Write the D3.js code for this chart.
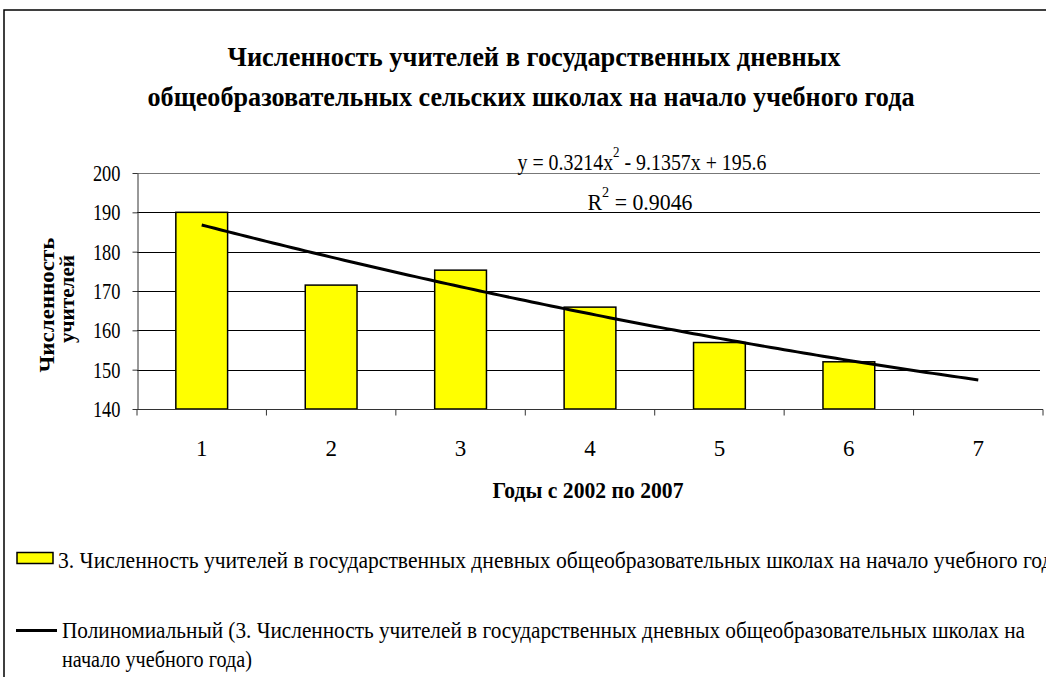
<!DOCTYPE html>
<html><head><meta charset="utf-8">
<script src="https://cdn.jsdelivr.net/npm/d3@7"></script>
<style>
body{margin:0;background:#fff}
</style>
</head><body>
<svg id="c" width="1046" height="677"></svg>
<script>
// ---- data ----
const categories = ["1","2","3","4","5","6","7"];
const values = [190, 171.5, 175.3, 165.9, 156.9, 152.0];
const yTicks = [140,150,160,170,180,190,200];
const trendCoef = [0.3214, -9.1357, 195.6]; // a, b, c of y = ax^2 + bx + c
const rSquared = "0.9046";
const titleLines = ["Численность учителей в государственных дневных",
                    "общеобразовательных сельских школах на начало учебного года"];
const yTitleLines = ["Численность","учителей"];
const xTitle = "Годы с 2002 по 2007";
const legendBar = "3. Численность учителей в государственных дневных общеобразовательных школах на начало учебного года";
const legendTrendLines = ["Полиномиальный (3. Численность учителей в государственных дневных общеобразовательных школах на",
                          "начало учебного года)"];

// ---- layout ----
const FONT = "'Liberation Serif', 'Times New Roman', 'DejaVu Serif', serif";
const svg = d3.select("#c");
const L = 137, R = 1043, T = 173, B = 409;

const x = d3.scaleBand().domain(categories).range([L, R]).paddingInner(0.6).paddingOuter(0.3);
const y = d3.scaleLinear().domain([140, 200]).range([B, T]);
const bw = x.bandwidth();
const xNum = d3.scaleLinear().domain([1, 7]).range([x("1") + bw/2, x("7") + bw/2]);

function txt(px, py, s, o) {
  const t = svg.append("text").attr("x", px).attr("y", py)
    .style("font-family", FONT).attr("fill", "#000")
    .attr("font-size", o.size).attr("text-anchor", o.anchor || "start").text(s);
  if (o.bold) t.attr("font-weight", "bold");
  if (o.w) t.attr("textLength", o.w).attr("lengthAdjust", "spacingAndGlyphs");
  return t;
}

// frame
svg.append("path").attr("d", "M4,677V10H1046").attr("fill", "none").attr("stroke", "#000").attr("stroke-width", 1.5);

// title
txt(534, 66, titleLines[0], {size: 27, bold: true, anchor: "middle", w: 613});
txt(531, 106, titleLines[1], {size: 27, bold: true, anchor: "middle", w: 767});

// gridlines
svg.append("g").selectAll("line").data(yTicks.filter(d => d > 140)).join("line")
  .attr("x1", L).attr("x2", R - 3)
  .attr("y1", d => Math.round(y(d)) + 0.5).attr("y2", d => Math.round(y(d)) + 0.5)
  .attr("stroke", d => d === 200 ? "#777" : "#000").attr("stroke-width", 1);

// y axis
const yAxis = svg.append("g").attr("transform", `translate(${L + 0.5},0)`)
  .call(d3.axisLeft(y).tickValues(yTicks).tickSize(5).tickSizeOuter(0));
yAxis.select(".domain").attr("stroke", "#333");
yAxis.selectAll(".tick line").attr("stroke", "#333");
yAxis.selectAll(".tick text").style("font-family", FONT).attr("font-size", 23)
  .attr("fill", "#000").attr("x", -17 / 0.8).attr("dy", "0.33em")
  .attr("transform", "scale(0.8,1)");

// bars
svg.append("g").selectAll("rect").data(values).join("rect")
  .attr("x", (d, i) => x(categories[i]))
  .attr("y", d => y(d))
  .attr("width", bw)
  .attr("height", d => y(140) - y(d))
  .attr("fill", "#FFFF00").attr("stroke", "#000").attr("stroke-width", 1.5);

// x axis
const xEdges = categories.map(c => x(c) - x.step() * x.paddingOuter()).concat([R]);
const xAxisG = svg.append("g").attr("transform", `translate(0,${B + 0.5})`);
xAxisG.append("line").attr("x1", L).attr("x2", R).attr("stroke", "#333");
xAxisG.selectAll("line.t").data(xEdges).join("line").attr("class", "t")
  .attr("x1", d => d).attr("x2", d => d).attr("y1", 0).attr("y2", 6).attr("stroke", "#333");
const xAxis = svg.append("g").attr("transform", `translate(0,${B})`)
  .call(d3.axisBottom(x).tickSize(0).tickSizeOuter(0));
xAxis.select(".domain").remove();
xAxis.selectAll(".tick text").style("font-family", FONT).attr("font-size", 23)
  .attr("fill", "#000").attr("y", 47).attr("dy", 0);

// trendline
const tx = d3.range(1, 7.001, 0.05);
const poly = v => trendCoef[0] * v * v + trendCoef[1] * v + trendCoef[2];
svg.append("path").datum(tx)
  .attr("d", d3.line().x(v => xNum(v)).y(v => y(poly(v))))
  .attr("fill", "none").attr("stroke", "#000").attr("stroke-width", 3);

// equation
const eq = svg.append("text").attr("x", 642).attr("y", 170).attr("font-size", 23)
  .style("font-family", FONT).attr("fill", "#000")
  .attr("text-anchor", "middle").attr("textLength", 249).attr("lengthAdjust", "spacingAndGlyphs");
eq.append("tspan").text("y = " + trendCoef[0] + "x");
eq.append("tspan").attr("dy", -13).attr("font-size", 15).text("2");
eq.append("tspan").attr("dy", 13).text(" - " + Math.abs(trendCoef[1]) + "x + " + trendCoef[2]);
const r2 = svg.append("text").attr("x", 640).attr("y", 210).attr("font-size", 23)
  .style("font-family", FONT).attr("fill", "#000")
  .attr("text-anchor", "middle").attr("textLength", 105).attr("lengthAdjust", "spacingAndGlyphs");
r2.append("tspan").text("R");
r2.append("tspan").attr("dy", -13).attr("font-size", 15).text("2");
r2.append("tspan").attr("dy", 13).text(" = " + rSquared);

// axis titles
txt(588, 498, xTitle, {size: 24, bold: true, anchor: "middle", w: 191});
svg.append("text").attr("transform", "translate(54,305) rotate(-90)")
  .style("font-family", FONT).attr("fill", "#000")
  .attr("font-size", 21).attr("font-weight", "bold").attr("text-anchor", "middle")
  .attr("textLength", 135).attr("lengthAdjust", "spacingAndGlyphs").text(yTitleLines[0]);
svg.append("text").attr("transform", "translate(74,299) rotate(-90)")
  .style("font-family", FONT).attr("fill", "#000")
  .attr("font-size", 21).attr("font-weight", "bold").attr("text-anchor", "middle")
  .attr("textLength", 88).attr("lengthAdjust", "spacingAndGlyphs").text(yTitleLines[1]);

// legend
svg.append("rect").attr("x", 17).attr("y", 552.5).attr("width", 36).attr("height", 11)
  .attr("fill", "#FFFF00").attr("stroke", "#000").attr("stroke-width", 1.5);
txt(58, 568, legendBar, {size: 24, w: 1004});
svg.append("line").attr("x1", 16).attr("x2", 57).attr("y1", 630.5).attr("y2", 630.5)
  .attr("stroke", "#000").attr("stroke-width", 3);
txt(62, 638, legendTrendLines[0], {size: 24, w: 963});
txt(62, 667, legendTrendLines[1], {size: 24, w: 190});
</script>
</body></html>
